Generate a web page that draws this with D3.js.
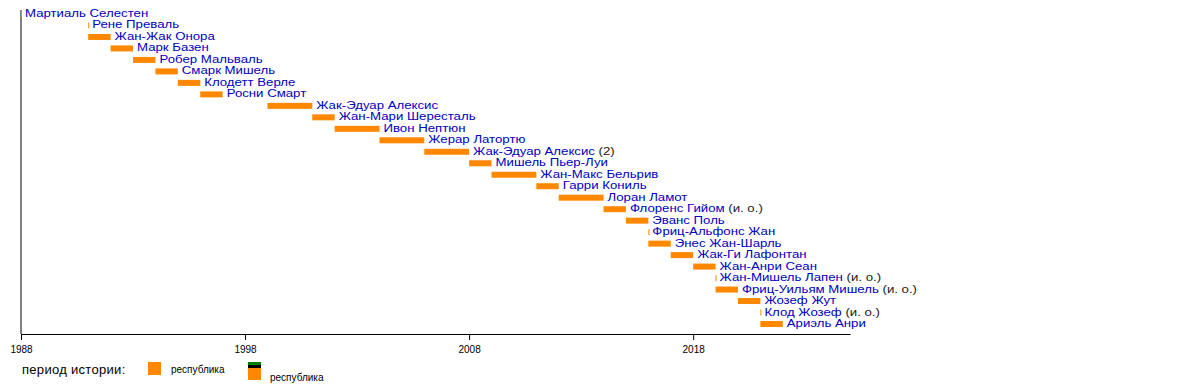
<!DOCTYPE html>
<html>
<head>
<meta charset="utf-8">
<script src="https://cdn.jsdelivr.net/npm/d3@7"></script>
<style>
  body { margin: 0; background: #fff; }
  text { font-family: "Liberation Sans", Arial, sans-serif; }
</style>
</head>
<body>
<div id="chart"></div>
<script>
// premiers, in order of appearance
var names = ["Мартиаль Селестен", "Рене Преваль", "Жан-Жак Онора", "Марк Базен", "Робер Мальваль",
    "Смарк Мишель", "Клодетт Верле", "Росни Смарт", "Жак-Эдуар Алексис", "Жан-Мари Шересталь",
    "Ивон Нептюн", "Жерар Латортю", "Жак-Эдуар Алексис", "Мишель Пьер-Луи", "Жан-Макс Бельрив",
    "Гарри Кониль", "Лоран Ламот", "Флоренс Гийом", "Эванс Поль", "Фриц-Альфонс Жан",
    "Энес Жан-Шарль", "Жак-Ги Лафонтан", "Жан-Анри Сеан", "Жан-Мишель Лапен",
    "Фриц-Уильям Мишель", "Жозеф Жут", "Клод Жозеф", "Ариэль Анри"];
var notes = ["", "", "", "", "", "", "", "", "", "", "", "", "(2)", "", "", "", "", "(и. о.)",
    "", "", "", "", "", "(и. о.)", "(и. о.)", "", "(и. о.)", ""];
var starts = [1988, 1991, 1991, 1992, 1993, 1994, 1995, 1996, 1999, 2001, 2002, 2004, 2006, 2008,
    2009, 2011, 2012, 2014, 2015, 2016, 2016, 2017, 2018, 2019, 2019, 2020, 2021, 2021];
var ends = [1988, 1991, 1992, 1993, 1994, 1995, 1996, 1997, 2001, 2002, 2004, 2006, 2008, 2009,
    2011, 2012, 2014, 2015, 2016, 2016, 2017, 2018, 2019, 2019, 2020, 2021, 2021, 2022];
var tickYears = [1988, 1998, 2008, 2018];
var legendTitle = "период истории:";
var legendLabels = ["республика", "республика"];

var svg = d3.select('#chart').append('svg').attr('width', 1200).attr('height', 384);

var x = d3.scaleLinear().domain([1988, 2025]).range([21, 850]);
var y = d3.scalePoint().domain(d3.range(names.length)).range([17, 327]);

// axes
svg.append('line')
    .attr('x1', x(1988)).attr('x2', x(1988))
    .attr('y1', 10).attr('y2', 334)
    .attr('stroke', '#000');

var axis = svg.append('g')
    .attr('transform', 'translate(0,334)')
    .call(d3.axisBottom(x).tickValues(tickYears).tickFormat(d3.format('d')).tickSize(6).tickPadding(6).tickSizeOuter(0));
axis.select('.domain').attr('stroke', '#000');
axis.selectAll('line').attr('stroke', '#000');
axis.selectAll('text').attr('font-size', 10).attr('fill', '#000').attr('font-family', '"Liberation Sans", Arial, sans-serif');

// bars
var rows = svg.selectAll('.row')
    .data(names)
    .enter()
    .append('g')
    .attr('class', 'row');

rows.append('rect')
    .attr('x', (d, i) => x(starts[i]))
    .attr('y', (d, i) => y(i) - 6)
    .attr('width', (d, i) => Math.max(1, x(ends[i]) - x(starts[i])))
    .attr('height', 6)
    .attr('fill', '#ff8800');

// labels in the original are a bit stretched sideways
var labels = rows.append('text')
    .attr('transform', (d, i) => `translate(${x(ends[i]) + 4}, ${y(i)}) scale(1.15, 1)`)
    .attr('font-size', 11.5);

labels.append('tspan')
    .attr('fill', '#0000c0')
    .text(d => d);

labels.append('tspan')
    .attr('fill', '#222')
    .text((d, i) => notes[i] ? ' ' + notes[i] : '');

// legend
svg.append('text')
    .attr('x', 22).attr('y', 374)
    .attr('font-size', 13)
    .attr('letter-spacing', 0.3)
    .text(legendTitle);

svg.append('rect')
    .attr('x', 148).attr('y', 362)
    .attr('width', 13).attr('height', 13)
    .attr('fill', '#ff8800');
svg.append('text')
    .attr('x', 171).attr('y', 373)
    .attr('font-size', 10)
    .text(legendLabels[0]);

svg.append('rect').attr('x', 248).attr('y', 362).attr('width', 13).attr('height', 3).attr('fill', '#008000');
svg.append('rect').attr('x', 248).attr('y', 365).attr('width', 13).attr('height', 3).attr('fill', '#000');
svg.append('rect').attr('x', 248).attr('y', 368).attr('width', 13).attr('height', 12).attr('fill', '#ff8800');
svg.append('text')
    .attr('x', 270).attr('y', 381)
    .attr('font-size', 10)
    .text(legendLabels[1]);
</script>
</body>
</html>
